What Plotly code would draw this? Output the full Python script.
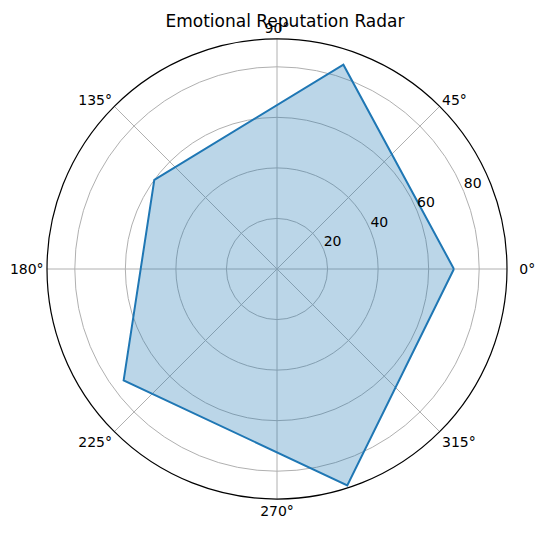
import plotly.graph_objects as go

# radar values, one per spoke (spokes evenly spaced round the circle)
values = [70, 85, 60, 75, 90]
r_max = 91
radial_ticks = [20, 40, 60, 80]
radial_label_angle = 22.5
angle_ticks = [0, 45, 90, 135, 180, 225, 270, 315]
angle_labels = [f'{a}°' for a in angle_ticks]
angle_labels[0] = '\u00a0\u00a0' + angle_labels[0]  # nudge the 0° label off the rim

n = len(values)
theta = [360 * i / n for i in range(n)]
# close the polygon
r_closed = values + values[:1]
theta_closed = theta + theta[:1]

W, H = 545, 534
cx, cy, rad = 269, 261, 230  # centre (nudged for plotly's offset) and radius in px

fig = go.Figure()
fig.add_trace(go.Scatterpolar(
    r=r_closed, theta=theta_closed, mode='lines',
    fill='toself', fillcolor='rgba(31,119,180,0.3)',
    line=dict(color='#1f77b4', width=2),
    hoverinfo='skip', showlegend=False,
))
# radial tick labels, matplotlib style (horizontal, sitting beside the 22.5° spoke)
fig.add_trace(go.Scatterpolar(
    r=radial_ticks, theta=[radial_label_angle] * len(radial_ticks),
    mode='text', text=[str(v) for v in radial_ticks], textposition='top right',
    textfont=dict(size=14, color='black', family='DejaVu Sans'),
    hoverinfo='skip', showlegend=False,
))

fig.update_layout(
    width=W, height=H,
    margin=dict(l=0, r=0, t=0, b=0, autoexpand=False),
    paper_bgcolor='white',
    font=dict(family='DejaVu Sans', size=14, color='black'),
    title=dict(text='Emotional Reputation Radar', x=277 / W, xanchor='center',
               y=1 - 13 / H, yanchor='middle', font=dict(size=17, color='black')),
    polar=dict(
        domain=dict(x=[(cx - rad) / W, (cx + rad) / W],
                    y=[(H - cy - rad) / H, (H - cy + rad) / H]),
        bgcolor='white',
        radialaxis=dict(range=[0, r_max], tickvals=radial_ticks, showticklabels=False,
                        showline=False, ticks='',
                        gridcolor='#b0b0b0', gridwidth=1),
        angularaxis=dict(tickmode='array', tickvals=angle_ticks, ticktext=angle_labels,
                         rotation=0, direction='counterclockwise', ticks='',
                         showline=True, linecolor='black', linewidth=1.2,
                         gridcolor='#b0b0b0', gridwidth=1,
                         tickfont=dict(size=14, color='black')),
    ),
)

fig.write_html('out.html')
